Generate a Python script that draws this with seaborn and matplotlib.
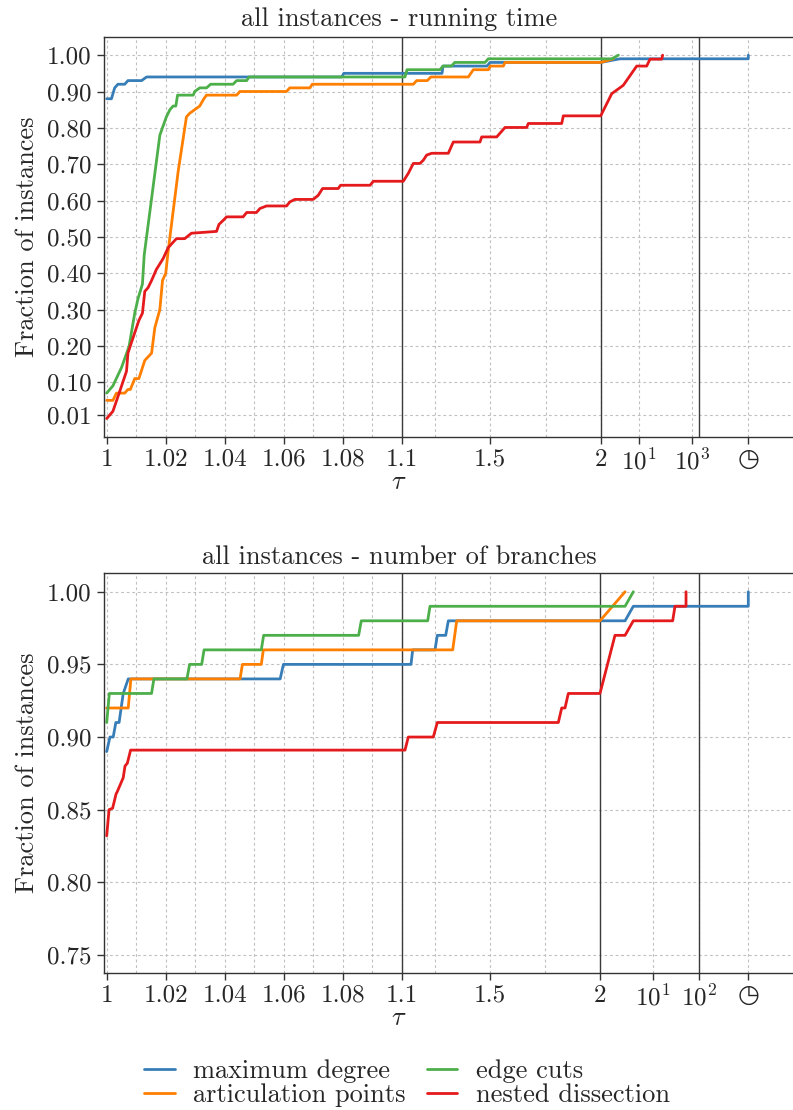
import numpy as np
import pandas as pd
import seaborn as sns
import matplotlib
matplotlib.use('Agg')
import matplotlib.pyplot as plt

# placeholder ratio used for the "timeout" column of the profile
TIMEOUT = 1e6

names = ['maximum degree', 'articulation points', 'edge cuts', 'nested dissection']
colors = ['#377eb8', '#ff7f00', '#4daf4a', '#e41a1c']

#------------------------ running time ------------------------
rt_md_tau = [1.0, 1.0016, 1.0027, 1.0038, 1.0061, 1.0072, 1.0118, 1.0135, 1.0796, 1.0803,
             1.2812, 1.2857, 1.4850, 1.4986, 2.0, 4.5, TIMEOUT, TIMEOUT]
rt_md_frac = [0.88, 0.88, 0.91, 0.92, 0.92, 0.93, 0.93, 0.94, 0.94, 0.95,
              0.95, 0.97, 0.97, 0.98, 0.98, 0.99, 0.99, 1.0]

rt_ap_tau = [1.0, 1.0021, 1.0033, 1.0061, 1.0072, 1.0080, 1.0095, 1.0109, 1.0129, 1.0152,
             1.0163, 1.0180, 1.0189, 1.0200, 1.0208, 1.0242, 1.0270, 1.0281, 1.0298, 1.0315,
             1.0329, 1.0338, 1.0440, 1.0451, 1.0609, 1.0620, 1.0688, 1.0696, 1.1513, 1.1664,
             1.2147, 1.2306, 1.4005, 1.423, 1.491, 1.5, 1.559, 1.5666, 2.0, 3.4]
rt_ap_frac = [0.05, 0.05, 0.07, 0.07, 0.08, 0.08, 0.11, 0.11, 0.16, 0.18,
              0.25, 0.30, 0.38, 0.40, 0.46, 0.68, 0.83, 0.84, 0.85, 0.86,
              0.88, 0.89, 0.89, 0.90, 0.90, 0.91, 0.91, 0.92, 0.92, 0.93,
              0.93, 0.94, 0.94, 0.96, 0.96, 0.97, 0.97, 0.98, 0.98, 0.99]

rt_ec_tau = [1.0, 1.0021, 1.0050, 1.0072, 1.0076, 1.0095, 1.0106, 1.0121, 1.0127, 1.0180,
             1.0202, 1.0214, 1.0225, 1.0234, 1.0240, 1.0293, 1.0298, 1.0315, 1.0338, 1.0352,
             1.0428, 1.0440, 1.0474, 1.0482, 1.1136, 1.1226, 1.272, 1.2857, 1.324, 1.339,
             1.476, 1.491, 3.2, 4.2]
rt_ec_frac = [0.07, 0.09, 0.14, 0.19, 0.20, 0.29, 0.33, 0.37, 0.45, 0.78,
              0.83, 0.85, 0.86, 0.86, 0.89, 0.89, 0.90, 0.91, 0.91, 0.92,
              0.92, 0.93, 0.93, 0.94, 0.94, 0.96, 0.96, 0.97, 0.97, 0.98,
              0.98, 0.99, 0.99, 1.0]

rt_nd_tau = [1.0, 1.0021, 1.0038, 1.0067, 1.0072, 1.0080, 1.0109, 1.0121, 1.0129, 1.0140,
             1.0152, 1.0168, 1.0191, 1.0208, 1.0219, 1.0236, 1.0264, 1.0287, 1.0372, 1.0380,
             1.0394, 1.0406, 1.0462, 1.0474, 1.0507, 1.0519, 1.0541, 1.0609, 1.0620, 1.0637,
             1.0699, 1.0716, 1.0731, 1.0784, 1.0792, 1.0892, 1.0903, 1.1060, 1.1287, 1.1513,
             1.1815, 1.1966, 1.2117, 1.2345, 1.3097, 1.3324, 1.4533, 1.4610, 1.5290, 1.5666,
             1.6649, 1.6720, 1.8234, 1.8307, 2.0, 3.18, 5.16, 9.08, 19.5, 26.0,
             72.0, 78.0]
rt_nd_frac = [0.00, 0.02, 0.06, 0.13, 0.18, 0.20, 0.27, 0.29, 0.35, 0.36,
              0.38, 0.41, 0.44, 0.47, 0.48, 0.495, 0.495, 0.51, 0.515, 0.534,
              0.545, 0.555, 0.555, 0.567, 0.567, 0.578, 0.585, 0.585, 0.596, 0.603,
              0.603, 0.614, 0.633, 0.633, 0.642, 0.642, 0.653, 0.653, 0.675, 0.702,
              0.702, 0.711, 0.725, 0.730, 0.730, 0.761, 0.761, 0.775, 0.775, 0.801,
              0.801, 0.812, 0.812, 0.833, 0.833, 0.894, 0.917, 0.97, 0.97, 0.989,
              0.989, 1.0]

#------------------------ number of branches ------------------------
nb_md_tau = [1.0, 1.0011, 1.0022, 1.0031, 1.0042, 1.0056, 1.0073, 1.0588, 1.0599, 1.1422,
             1.1499, 1.2512, 1.2616, 1.2997, 1.3116, 2.0, 4.3, 5.53, TIMEOUT, TIMEOUT]
nb_md_frac = [0.89, 0.90, 0.90, 0.91, 0.91, 0.93, 0.94, 0.94, 0.95, 0.95,
              0.96, 0.96, 0.97, 0.97, 0.98, 0.98, 0.98, 0.99, 0.99, 1.0]

nb_ap_tau = [1.0, 1.0073, 1.0082, 1.0452, 1.0460, 1.0524, 1.0531, 1.3315, 1.3497, 2.0, 4.3]
nb_ap_frac = [0.92, 0.92, 0.94, 0.94, 0.95, 0.95, 0.96, 0.96, 0.98, 0.98, 1.0]

nb_ec_tau = [1.0, 1.0009, 1.0152, 1.0160, 1.0272, 1.0281, 1.0322, 1.0330, 1.0524, 1.0532,
             1.0854, 1.0863, 1.2180, 1.2284, 2.0, 4.3, 5.53]
nb_ec_frac = [0.91, 0.93, 0.93, 0.94, 0.94, 0.95, 0.95, 0.96, 0.96, 0.97,
              0.97, 0.98, 0.98, 0.99, 0.99, 0.99, 1.0]

nb_nd_tau = [1.0, 1.0008, 1.0020, 1.0032, 1.0035, 1.0056, 1.0062, 1.0070, 1.0081, 1.1150,
             1.1300, 1.2434, 1.2616, 1.8108, 1.8262, 1.8412, 1.8562, 2.0, 3.16, 4.3,
             5.53, 27.0, 30.3, 52.4, 52.5]
nb_nd_frac = [0.832, 0.85, 0.851, 0.861, 0.862, 0.872, 0.88, 0.882, 0.891, 0.891,
              0.90, 0.90, 0.91, 0.91, 0.92, 0.92, 0.93, 0.93, 0.97, 0.97,
              0.98, 0.98, 0.99, 0.99, 1.0]

#------------------------ broken x axis ------------------------
# segment breaks (tau) and the pixel column each one sits at
top_breaks = [0.9, 1.0, 1.1, 2.0, 10.0, 1000.0, 1837.0, TIMEOUT, 1e12]
top_break_px = [-188.3, 106.7, 402.0, 600.7, 639.0, 692.0, 699.0, 748.3, 1248.3]
bot_breaks = [0.9, 1.0, 1.1, 2.0, 10.0, 100.0, TIMEOUT, 1e12]
bot_break_px = [-188.3, 106.7, 401.7, 600.0, 652.7, 699.0, 748.3, 1248.3]


def warp(t):
    t = np.asarray(t, dtype=float)
    return np.where(t > 2, 2 + np.log10(np.clip(t, 2, None) / 2), t)


def unwarp(w):
    w = np.asarray(w, dtype=float)
    return np.where(w > 2, 2 * 10 ** (np.clip(w, 2, 60) - 2), w)


def make_scale(breaks, px):
    wb = warp(breaks)
    fwd = lambda x: np.interp(warp(x), wb, px)
    inv = lambda p: unwarp(np.interp(p, px, wb))
    return fwd, inv


sns.set_theme(style='ticks')
plt.rcParams['font.family'] = ['cmr10', 'DejaVu Sans']
plt.rcParams['mathtext.fontset'] = 'cm'
plt.rcParams['axes.unicode_minus'] = False
plt.rcParams['axes.formatter.use_mathtext'] = True

W, H = 793, 1110
fig = plt.figure(figsize=(W / 100, H / 100), dpi=100)
ax_top = fig.add_axes([104 / W, 1 - 436.7 / H, (W - 104) / W, 399.7 / H])
ax_bot = fig.add_axes([104 / W, 1 - 972.7 / H, (W - 104) / W, 399.4 / H])

clock = '\u25f7'


def draw_panel(ax, series, breaks, break_px, seg_end, xt, xtl, xminor,
               yt, ytl, ylim, title, title_pad, legend):
    fwd, inv = make_scale(breaks, break_px)
    ax.set_xscale('function', functions=(fwd, inv))

    frames = []
    for name, (tau, frac) in zip(names, series):
        frames.append(pd.DataFrame({'tau': tau, 'frac': frac, 'heuristic': name}))
    df = pd.concat(frames, ignore_index=True)

    sns.lineplot(data=df, x='tau', y='frac', hue='heuristic', hue_order=names,
                 palette=colors, estimator=None, sort=False, lw=2.0, ax=ax,
                 legend=legend)

    ax.set_xlim(inv(104), inv(793))
    ax.set_ylim(*ylim)

    ax.set_xticks(xt, xtl)
    ax.set_xticks(xminor, minor=True)
    ax.set_yticks(yt, ytl)

    ax.set_axisbelow(True)
    grid_kw = dict(color='#c0c0c0', linestyle=(0, (2.5, 2.5)), linewidth=0.8)
    ax.grid(True, which='both', axis='x', **grid_kw)
    ax.grid(True, which='major', axis='y', **grid_kw)

    # segment separators
    for v in [1.1, 2.0, seg_end]:
        ax.axvline(v, color='#3a3a3a', lw=1.0, zorder=1.5)

    ax.spines['right'].set_visible(False)
    for s in ['left', 'top', 'bottom']:
        ax.spines[s].set_color('#333333')
        ax.spines[s].set_linewidth(1.0)

    ax.tick_params(axis='both', which='major', direction='out', length=5, width=1,
                   color='#333333', labelsize=18)
    ax.tick_params(axis='x', which='major', pad=3.5)
    ax.tick_params(axis='y', which='major', pad=4)
    ax.tick_params(axis='x', which='minor', length=0)

    ax.set_title(title, fontsize=19, x=0.428, pad=title_pad)
    ax.set_ylabel('Fraction of instances', fontsize=19, labelpad=6)
    ax.set_xlabel(r'$\tau$', fontsize=19)
    ax.xaxis.set_label_coords(0.428, -0.085)


seg1_minor = [1.01, 1.03, 1.05, 1.07, 1.09, 1.25, 1.75]

draw_panel(ax_top,
           [(rt_md_tau, rt_md_frac), (rt_ap_tau, rt_ap_frac),
            (rt_ec_tau, rt_ec_frac), (rt_nd_tau, rt_nd_frac)],
           top_breaks, top_break_px, 1837.0,
           [1, 1.02, 1.04, 1.06, 1.08, 1.1, 1.5, 2, 10, 1000, TIMEOUT],
           ['1', '1.02', '1.04', '1.06', '1.08', '1.1', '1.5', '2',
            '$10^1$', '$10^3$', clock],
           seg1_minor,
           [0.01, 0.1, 0.2, 0.3, 0.4, 0.5, 0.6, 0.7, 0.8, 0.9, 1.0],
           ['0.01', '0.10', '0.20', '0.30', '0.40', '0.50', '0.60', '0.70',
            '0.80', '0.90', '1.00'],
           (-0.05, 1.05), 'all instances - running time', 8, False)

draw_panel(ax_bot,
           [(nb_md_tau, nb_md_frac), (nb_ap_tau, nb_ap_frac),
            (nb_ec_tau, nb_ec_frac), (nb_nd_tau, nb_nd_frac)],
           bot_breaks, bot_break_px, 100.0,
           [1, 1.02, 1.04, 1.06, 1.08, 1.1, 1.5, 2, 10, 100, TIMEOUT],
           ['1', '1.02', '1.04', '1.06', '1.08', '1.1', '1.5', '2',
            '$10^1$', '$10^2$', clock],
           seg1_minor,
           [0.75, 0.80, 0.85, 0.90, 0.95, 1.00],
           ['0.75', '0.80', '0.85', '0.90', '0.95', '1.00'],
           (0.7378, 1.0127), 'all instances - number of branches', 6.5, True)

handles, labels = ax_bot.get_legend_handles_labels()
ax_bot.get_legend().remove()
fig.legend(handles, labels, ncol=2, loc='center',
           bbox_to_anchor=(407 / W, 1 - 1083.4 / H), frameon=False, fontsize=19,
           handlelength=1.15, handletextpad=0.7, columnspacing=0.8, labelspacing=0.0)

fig.savefig('out.png', dpi=100)
